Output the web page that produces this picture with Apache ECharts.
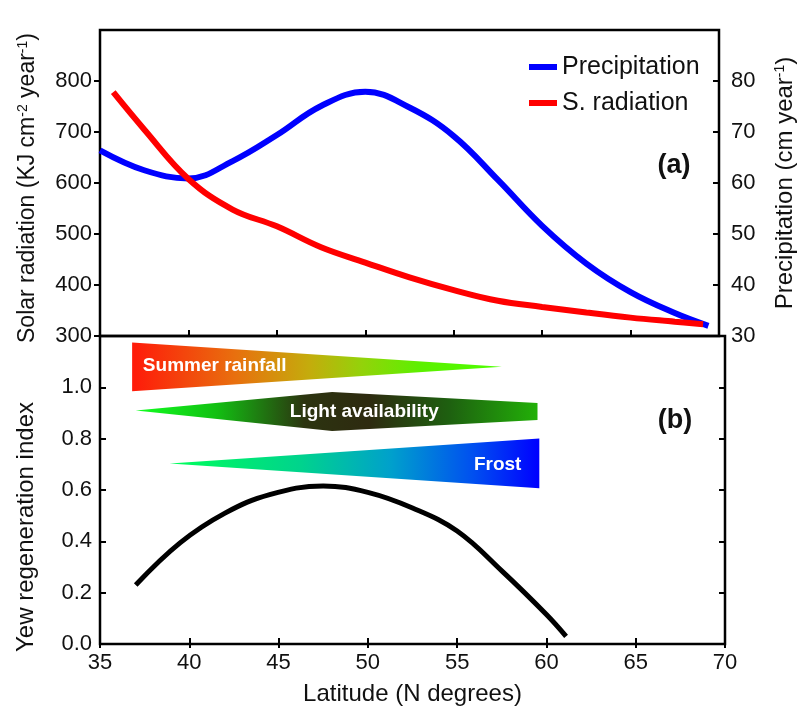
<!DOCTYPE html>
<html><head><meta charset="utf-8">
<script src="https://cdn.jsdelivr.net/npm/echarts@6/dist/echarts.min.js"></script>
<style>html,body{margin:0;padding:0;background:#fff}#c{width:805px;height:716px}</style>
</head><body><div id="c"></div>
<script>
// ---- data ----
const latPrecip = [35, 37.5, 40, 42.5, 45, 47.5, 50, 52.5, 55, 57.5, 60, 62.5, 65, 67.5, 69.4];
const precipitation = [66.4, 62.5, 60.9, 64.3, 69.4, 75.1, 77.9, 74.8, 69.2, 60.6, 51.6, 44.2, 38.6, 34.5, 32.0];
const latRad = [35.75, 37.5, 40, 42.5, 45, 47.5, 50, 52.5, 55, 57.5, 60, 62.5, 65, 67.5, 69.1];
const radiation = [778, 705, 608, 548, 515, 474, 444, 415, 390, 369, 357, 346, 336, 328, 323];
const latYew = [37.0, 39.5, 42.0, 44.5, 47.5, 50, 52.5, 55, 57.5, 60, 61.1];
const yewIndex = [0.23, 0.395, 0.51, 0.582, 0.616, 0.591, 0.53, 0.44, 0.285, 0.115, 0.03];
const bandNames = ['Summer rainfall', 'Light availability', 'Frost'];
const bandShapes = [
  [[36.8, 1.175], [57.5, 1.08], [36.8, 0.985]],
  [[37.0, 0.91], [48.0, 0.982], [59.5, 0.939], [59.5, 0.873], [48.0, 0.83]],
  [[38.9, 0.703], [59.6, 0.801], [59.6, 0.607]]
];
const radTicks = [300, 400, 500, 600, 700, 800];
const precipTicks = [30, 40, 50, 60, 70, 80];
const yewTicks = [0, 0.2, 0.4, 0.6, 0.8, 1.0];

// ---- styling ----
const FONT = '"Liberation Sans", Arial, sans-serif';
const bandGradients = [
  [[0, '#ff1a0a'], [0.28, '#e8700e'], [0.48, '#c4ac0c'], [0.62, '#94d20a'], [0.78, '#5cf000'], [1, '#4cff00']],
  [[0, '#12ff22'], [0.2, '#12c012'], [0.42, '#2c3410'], [0.58, '#2e2a10'], [0.78, '#1e6010'], [1, '#22b008']],
  [[0, '#00ff5a'], [0.35, '#00d48c'], [0.6, '#00a0cc'], [0.82, '#0050f0'], [1, '#0000ff']]
];
const bandLabelPos = [
  { at: [37.4, 1.085], align: 'left' },
  { at: [49.8, 0.903], align: 'center' },
  { at: [58.6, 0.699], align: 'right' }
];

const zip = (xs, ys) => xs.map((x, i) => [x, ys[i]]);
const tickStyle = { lineStyle: { color: '#000', width: 2 }, length: 6 };
const labelStyle = { color: '#111', fontSize: 22, fontFamily: FONT, margin: 8 };

const chart = echarts.init(document.getElementById('c'));
chart.setOption({
  animation: false,
  backgroundColor: '#fff',
  textStyle: { fontFamily: FONT },
  grid: [
    { left: 100, right: 80, top: 30, height: 306, show: true, borderColor: '#000', borderWidth: 2.5, backgroundColor: 'transparent' },
    { left: 100, right: 80, top: 336, height: 308, show: true, borderColor: '#000', borderWidth: 2.5, backgroundColor: 'transparent' }
  ],
  legend: {
    data: ['Precipitation', 'S. radiation'],
    orient: 'vertical', left: 524, top: 49,
    icon: 'rect', itemWidth: 28, itemHeight: 6, itemGap: 10,
    textStyle: { fontSize: 25, color: '#111', fontFamily: FONT, lineHeight: 26 }
  },
  xAxis: [
    { gridIndex: 0, type: 'value', min: 35, max: 70, interval: 5, position: 'bottom',
      axisLine: { show: false }, axisTick: Object.assign({ inside: true }, tickStyle),
      axisLabel: { show: false }, splitLine: { show: false } },
    { gridIndex: 1, type: 'value', min: 35, max: 70, interval: 5, position: 'bottom',
      axisLine: { show: false }, axisTick: Object.assign({ inside: true }, tickStyle),
      axisLabel: labelStyle, splitLine: { show: false },
      name: 'Latitude (N degrees)', nameLocation: 'middle', nameGap: 38,
      nameTextStyle: { fontSize: 24, color: '#111', fontFamily: FONT } },
    { gridIndex: 1, type: 'value', min: 35, max: 70, interval: 5, position: 'top',
      axisLine: { show: false }, axisTick: Object.assign({ inside: true }, tickStyle, { length: 4 }),
      axisLabel: { show: false }, splitLine: { show: false } }
  ],
  yAxis: [
    { gridIndex: 0, type: 'value', min: 300, max: 900, interval: 100, position: 'left',
      axisLine: { show: false }, axisTick: Object.assign({ inside: false, customValues: radTicks }, tickStyle),
      axisLabel: Object.assign({}, labelStyle, { customValues: radTicks }),
      splitLine: { show: false },
      name: 'Solar radiation (KJ cm{sup|-2} year{sup|-1})', nameLocation: 'middle', nameGap: 60, nameRotate: 90,
      nameTextStyle: { fontSize: 23, color: '#111', fontFamily: FONT, padding: [0, 10, 0, 0],
        rich: { sup: { fontSize: 14, color: '#111', fontFamily: FONT, verticalAlign: 'top', padding: [0, 0, 10, 0] } } } },
    { gridIndex: 0, type: 'value', min: 30, max: 90, interval: 10, position: 'right',
      axisLine: { show: false }, axisTick: Object.assign({ inside: true, customValues: precipTicks }, tickStyle),
      axisLabel: Object.assign({}, labelStyle, { margin: 12, customValues: precipTicks }),
      splitLine: { show: false },
      name: 'Precipitation (cm year{sup|-1})', nameLocation: 'middle', nameGap: 54, nameRotate: 90,
      nameTextStyle: { fontSize: 24, color: '#111', fontFamily: FONT,
        rich: { sup: { fontSize: 14, color: '#111', fontFamily: FONT, verticalAlign: 'top', padding: [0, 0, 10, 0] } } } },
    { gridIndex: 1, type: 'value', min: 0, max: 1.2, interval: 0.2, position: 'left',
      axisLine: { show: false }, axisTick: Object.assign({ inside: true, customValues: yewTicks }, tickStyle),
      axisLabel: Object.assign({}, labelStyle, { customValues: yewTicks, formatter: v => v.toFixed(1) }),
      splitLine: { show: false },
      name: 'Yew regeneration index', nameLocation: 'middle', nameGap: 62, nameRotate: 90,
      nameTextStyle: { fontSize: 24, color: '#111', fontFamily: FONT, padding: [0, 74, 0, 0] } },
    { gridIndex: 1, type: 'value', min: 0, max: 1.2, interval: 0.2, position: 'right',
      axisLine: { show: false }, axisTick: Object.assign({ inside: true, customValues: yewTicks }, tickStyle),
      axisLabel: { show: false }, splitLine: { show: false } }
  ],
  graphic: [
    { type: 'text', x: 674, y: 166, style: { text: '(a)', font: 'bold 27px ' + FONT, fill: '#111', align: 'center', verticalAlign: 'middle' } },
    { type: 'text', x: 675, y: 421, style: { text: '(b)', font: 'bold 27px ' + FONT, fill: '#111', align: 'center', verticalAlign: 'middle' } }
  ],
  series: [
    { name: 'Precipitation', type: 'line', xAxisIndex: 0, yAxisIndex: 1, data: zip(latPrecip, precipitation),
      smooth: 0.4, showSymbol: false, color: '#0000ff', lineStyle: { width: 6, color: '#0000ff' }, z: 3 },
    { name: 'S. radiation', type: 'line', xAxisIndex: 0, yAxisIndex: 0, data: zip(latRad, radiation),
      smooth: 0.4, showSymbol: false, color: '#ff0000', lineStyle: { width: 6, color: '#ff0000' }, z: 4 },
    { name: 'bands', type: 'custom', xAxisIndex: 1, yAxisIndex: 2, clip: false,
      data: bandShapes.map(s => s[0]),
      renderItem: function (params, api) {
        const i = params.dataIndex;
        const pts = bandShapes[i].map(p => api.coord(p));
        const lp = api.coord(bandLabelPos[i].at);
        return { type: 'group', children: [
          { type: 'polygon', shape: { points: pts },
            style: { fill: new echarts.graphic.LinearGradient(0, 0, 1, 0,
              bandGradients[i].map(s => ({ offset: s[0], color: s[1] }))) } },
          { type: 'text', x: lp[0], y: lp[1],
            style: { text: bandNames[i], fill: '#fff', font: 'bold 19px ' + FONT,
              align: bandLabelPos[i].align, verticalAlign: 'middle' } }
        ] };
      }, z: 2 },
    { name: 'Yew regeneration index', type: 'line', xAxisIndex: 1, yAxisIndex: 2, data: zip(latYew, yewIndex),
      smooth: 0.4, showSymbol: false, color: '#000', lineStyle: { width: 5, color: '#000' }, z: 3 }
  ]
});
</script>
</body></html>
